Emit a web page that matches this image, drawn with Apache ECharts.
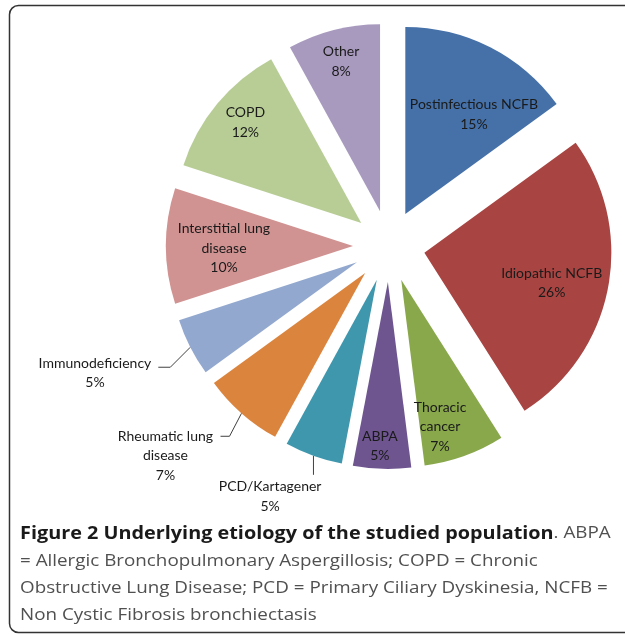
<!DOCTYPE html>
<html><head><meta charset="utf-8">
<script src="https://cdn.jsdelivr.net/npm/echarts@6/dist/echarts.min.js"></script>
<style>html,body{margin:0;padding:0;background:#fff}#c{width:625px;height:634px}</style>
</head><body><div id="c"></div>
<script>
// ---- data ----
const categories = ['Postinfectious NCFB','Idiopathic NCFB','Thoracic cancer','ABPA','PCD/Kartagener','Rheumatic lung disease','Immunodeficiency','Interstitial lung disease','COPD','Other'];
const labelNames = ['Postinfectious NCFB','Idiopathic NCFB','Thoracic\ncancer','ABPA','PCD/Kartagener','Rheumatic lung\ndisease','Immunodeficiency','Interstitial lung\ndisease','COPD','Other'];
const percentages = [15,26,7,5,5,7,5,10,12,8];
const sliceColors = ['#4571A8','#A84542','#89A74B','#6E5590','#3F97AE','#DB843E','#92A8CF','#D09392','#B8CD96','#A89ABE'];

// ---- layout ----
const CX = 389, CY = 246, R = 187, OFFSET = 36, LH = 19.5;
const total = percentages.reduce((a,b)=>a+b,0);
const mids = []; let acc = 0;
percentages.forEach(v => { mids.push((acc + v/2)/total*2*Math.PI); acc += v; });
// inside labels: [fraction of radius from exploded apex, angular shift in degrees]
const insidePlace = {0:[0.646,7.6],1:[0.70,2.6],2:[0.813,5.0],3:[0.878,1.0],7:[0.69,-0.9],8:[0.82,1.3],9:[0.827,-0.2]};
// outside labels with leader lines
const outsidePlace = {
  4:{bend:[0,19],tail:0,edge:8,firstDy:12},
  5:{bend:[-12,23],tail:-9,edge:-7.5,firstDy:0},
  6:{bend:[-20,20],tail:-12,edge:-7,firstDy:-4}
};

const chart = echarts.init(document.getElementById('c'), null, {renderer:'canvas'});
const sliceData = categories.map((n,i)=>({name:n, value:percentages[i], selected:true, itemStyle:{color:sliceColors[i]}}));
const labelData = categories.map((n,i)=>({
  name:n, value:percentages[i],
  label:{position: outsidePlace[i] ? 'outside' : 'inside'},
  labelLine:{show: !!outsidePlace[i]}
}));

const caption =
 '{b|Figure 2 Underlying etiology of the studied population}{r|. ABPA}\n' +
 '{r|= Allergic Bronchopulmonary Aspergillosis; COPD = Chronic}\n' +
 '{r|Obstructive Lung Disease; PCD = Primary Ciliary Dyskinesia, NCFB =}\n' +
 '{r|Non Cystic Fibrosis bronchiectasis}';

chart.setOption({
  animation:false,
  backgroundColor:'#fff',
  graphic:[
    {type:'rect', shape:{x:9.5,y:5.5,width:640,height:627,r:9}, style:{fill:'none',stroke:'#333',lineWidth:1.5}, silent:true},
    {type:'text', x:20, y:520, scaleX:1.14, silent:true, style:{text:caption, verticalAlign:'top', rich:{
      b:{fontFamily:'Open Sans',fontSize:17.4,fontWeight:'bold',fill:'#1a1a1a',lineHeight:27.2},
      r:{fontFamily:'Open Sans',fontSize:16.5,fill:'#505050',lineHeight:27.2}
    }}}
  ],
  series:[{
    type:'pie', center:[CX,CY], radius:R, startAngle:90, clockwise:true,
    selectedMode:'multiple', selectedOffset:OFFSET,
    itemStyle:{borderWidth:0}, emphasis:{disabled:true},
    label:{show:false}, labelLine:{show:false},
    data:sliceData
  },{
    type:'pie', center:[CX,CY], radius:R, startAngle:90, clockwise:true,
    selectedMode:false, silent:true, avoidLabelOverlap:false, percentPrecision:0,
    itemStyle:{color:'rgba(0,0,0,0)',borderWidth:0}, emphasis:{disabled:true},
    label:{show:true, fontFamily:'Lato', fontSize:14, color:'#1a1a1a', lineHeight:LH, align:'center',
      formatter:p=>labelNames[p.dataIndex]+'\n'+p.percent+'%'},
    labelLine:{lineStyle:{color:'#404040',width:1}},
    labelLayout:function(p){
      const i = p.dataIndex, a = mids[i];
      const ux = Math.sin(a), uy = -Math.cos(a);
      const ax = CX + OFFSET*ux, ay = CY + OFFSET*uy;
      const w = p.labelRect.width;
      if (insidePlace[i]) {
        const f = insidePlace[i][0], b = a + insidePlace[i][1]*Math.PI/180;
        return {x: ax + f*R*Math.sin(b), y: ay - f*R*Math.cos(b), align:'center', verticalAlign:'middle'};
      }
      const o = outsidePlace[i];
      const nLines = labelNames[i].split('\n').length + 1;
      const p0 = [ax + R*ux, ay + R*uy];
      const p1 = [p0[0]+o.bend[0], p0[1]+o.bend[1]];
      const p2 = [p1[0]+o.tail, p1[1]];
      return {x: p2[0] + o.edge - w/2, y: p2[1] + o.firstDy + (nLines-1)*LH/2,
        align:'center', verticalAlign:'middle', labelLinePoints:[p0,p1,p2]};
    },
    data:labelData
  }]
});
</script></body></html>
